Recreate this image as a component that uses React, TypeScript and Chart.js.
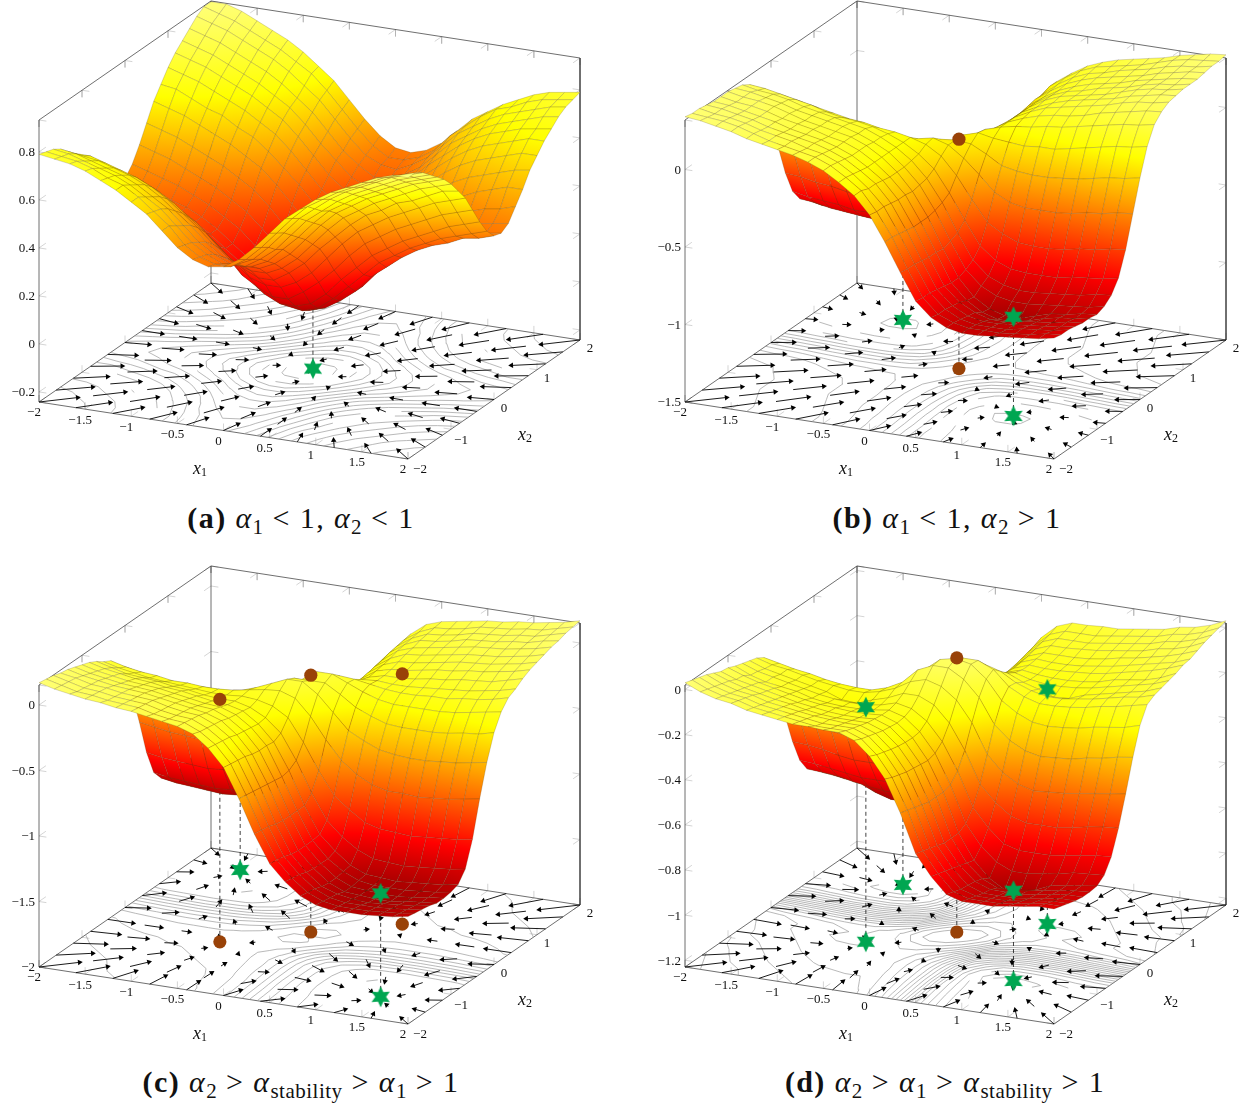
import React, { useEffect, useRef } from 'react';
import { Chart, registerables } from 'chart.js';
Chart.register(...registerables);

// Surface heights: rows are x2 = -2 .. 0 in steps of 1/6, columns x1 = -2 .. 2 in steps of 1/6.
// The pictured surfaces are point-symmetric, so rows x2 = 1/6 .. 2 are the same rows turned round.
const lowerA = [
  [.79,.78,.77,.75,.72,.69,.65,.61,.55,.49,.45,.43,.44,.48,.54,.61,.68,.73,.78,.82,.85,.88,.91,.93,.93],
  [.78,.77,.76,.74,.71,.69,.65,.60,.55,.48,.44,.42,.42,.46,.52,.59,.66,.72,.76,.80,.83,.86,.89,.91,.93],
  [.77,.76,.74,.72,.70,.67,.63,.59,.53,.47,.43,.40,.41,.44,.50,.57,.64,.69,.74,.78,.81,.84,.87,.89,.91],
  [.75,.74,.72,.70,.68,.65,.61,.57,.51,.45,.41,.38,.38,.42,.47,.54,.61,.66,.71,.75,.78,.81,.84,.86,.88],
  [.72,.71,.70,.68,.66,.63,.59,.54,.49,.43,.38,.36,.36,.39,.45,.51,.58,.64,.68,.72,.75,.78,.81,.83,.85],
  [.69,.69,.67,.65,.63,.60,.56,.51,.46,.40,.35,.33,.33,.36,.41,.48,.55,.61,.65,.69,.72,.75,.78,.80,.82],
  [.65,.65,.63,.61,.59,.56,.52,.47,.42,.36,.31,.29,.29,.32,.37,.44,.51,.57,.61,.65,.68,.71,.74,.76,.78],
  [.61,.60,.58,.56,.54,.51,.47,.43,.37,.31,.27,.24,.24,.28,.33,.40,.46,.52,.57,.60,.64,.66,.69,.72,.73],
  [.55,.55,.53,.51,.48,.46,.42,.37,.32,.26,.21,.19,.19,.22,.27,.34,.41,.47,.51,.55,.58,.61,.64,.66,.68],
  [.50,.48,.47,.45,.42,.40,.36,.31,.26,.19,.15,.12,.12,.16,.21,.27,.34,.40,.44,.48,.51,.54,.57,.59,.61],
  [.45,.44,.43,.41,.38,.35,.31,.27,.21,.15,.10,.07,.07,.09,.14,.21,.27,.33,.37,.41,.44,.47,.50,.52,.54],
  [.43,.42,.40,.38,.36,.33,.29,.24,.19,.12,.07,.04,.03,.05,.10,.16,.22,.28,.32,.36,.39,.42,.44,.46,.48],
  [.44,.42,.41,.38,.36,.33,.29,.24,.19,.12,.07,.03,.01,.03,.07,.12,.19,.24,.29,.33,.36,.38,.41,.42,.44],
];
const lowerB = [
  [.34,.33,.31,.29,.26,.24,.22,.20,.17,.13,.07,0,-.11,-.27,-.45,-.62,-.71,-.76,-.78,-.78,-.77,-.76,-.75,-.74,-.72],
  [.33,.32,.31,.29,.26,.23,.21,.19,.17,.13,.07,0,-.12,-.27,-.46,-.63,-.72,-.76,-.78,-.78,-.78,-.77,-.76,-.74,-.73],
  [.33,.31,.30,.28,.25,.23,.21,.18,.16,.12,.06,-.02,-.12,-.28,-.46,-.63,-.72,-.77,-.79,-.79,-.79,-.77,-.76,-.75,-.73],
  [.32,.31,.29,.27,.24,.22,.20,.18,.15,.11,.05,-.02,-.13,-.29,-.47,-.64,-.73,-.78,-.80,-.80,-.79,-.78,-.77,-.76,-.74],
  [.31,.30,.28,.26,.24,.21,.19,.17,.14,.10,.04,-.03,-.14,-.30,-.48,-.65,-.74,-.79,-.82,-.82,-.80,-.79,-.78,-.76,-.75],
  [.31,.29,.28,.26,.23,.21,.19,.16,.14,.10,.04,-.04,-.14,-.30,-.48,-.66,-.76,-.82,-.85,-.85,-.83,-.80,-.78,-.77,-.75],
  [.31,.29,.28,.26,.23,.20,.18,.16,.14,.10,.04,-.04,-.15,-.30,-.49,-.66,-.77,-.83,-.86,-.86,-.83,-.80,-.79,-.77,-.76],
  [.30,.29,.27,.25,.22,.20,.18,.16,.13,.09,.04,-.04,-.14,-.29,-.47,-.64,-.73,-.78,-.80,-.80,-.79,-.78,-.77,-.76,-.74],
  [.29,.27,.26,.24,.21,.19,.17,.15,.13,.09,.04,-.03,-.13,-.27,-.45,-.61,-.70,-.74,-.76,-.76,-.75,-.74,-.73,-.71,-.70],
  [.26,.25,.23,.21,.19,.16,.14,.13,.11,.08,.04,-.02,-.10,-.24,-.40,-.55,-.63,-.67,-.68,-.68,-.68,-.66,-.65,-.64,-.62],
  [.21,.19,.18,.16,.14,.12,.10,.09,.07,.06,.04,.01,-.05,-.16,-.30,-.43,-.49,-.53,-.54,-.54,-.53,-.51,-.50,-.48,-.47],
  [.10,.08,.07,.05,.03,.01,-.01,-.01,-.02,-.01,0,.02,-.01,-.08,-.17,-.27,-.32,-.34,-.34,-.34,-.33,-.31,-.30,-.28,-.27],
  [-.07,-.09,-.10,-.12,-.14,-.15,-.16,-.16,-.15,-.13,-.07,-.02,-.01,-.02,-.07,-.13,-.15,-.16,-.16,-.15,-.14,-.12,-.10,-.09,-.07],
];
const lowerC = [
  [.17,.14,.12,.10,.09,.07,.06,.04,.02,0,-.04,-.13,-.26,-.48,-.73,-.94,-1.06,-1.15,-1.20,-1.22,-1.22,-1.22,-1.21,-1.20,-1.18],
  [.16,.13,.10,.09,.07,.06,.05,.02,0,-.01,-.06,-.14,-.27,-.49,-.74,-.95,-1.07,-1.16,-1.21,-1.23,-1.23,-1.23,-1.22,-1.21,-1.19],
  [.15,.12,.09,.08,.06,.05,.04,.01,-.01,-.02,-.07,-.15,-.28,-.50,-.75,-.96,-1.08,-1.17,-1.22,-1.24,-1.24,-1.24,-1.23,-1.22,-1.20],
  [.13,.11,.08,.07,.05,.04,.03,0,-.02,-.03,-.08,-.16,-.29,-.51,-.77,-.98,-1.10,-1.19,-1.23,-1.25,-1.26,-1.25,-1.24,-1.23,-1.21],
  [.12,.09,.07,.05,.04,.03,.01,-.01,-.03,-.05,-.09,-.18,-.31,-.52,-.78,-.99,-1.11,-1.20,-1.25,-1.26,-1.27,-1.27,-1.25,-1.24,-1.23],
  [.10,.07,.05,.03,.02,.01,-.01,-.03,-.05,-.06,-.11,-.19,-.32,-.53,-.78,-.99,-1.11,-1.20,-1.25,-1.26,-1.27,-1.27,-1.26,-1.24,-1.23],
  [.08,.05,.03,.01,0,-.01,-.03,-.05,-.07,-.08,-.12,-.20,-.32,-.54,-.78,-.99,-1.11,-1.19,-1.24,-1.26,-1.26,-1.26,-1.25,-1.24,-1.22],
  [.06,.03,.01,-.01,-.02,-.04,-.05,-.07,-.09,-.10,-.13,-.21,-.33,-.53,-.78,-.98,-1.09,-1.18,-1.23,-1.24,-1.25,-1.24,-1.23,-1.22,-1.20],
  [.03,0,-.03,-.04,-.05,-.07,-.08,-.10,-.11,-.11,-.14,-.20,-.30,-.49,-.72,-.91,-1.02,-1.10,-1.15,-1.16,-1.17,-1.16,-1.15,-1.14,-1.12],
  [-.01,-.04,-.06,-.08,-.09,-.10,-.11,-.12,-.12,-.11,-.12,-.15,-.22,-.39,-.59,-.76,-.85,-.93,-.96,-.97,-.98,-.97,-.96,-.95,-.93],
  [-.04,-.07,-.09,-.10,-.12,-.12,-.13,-.13,-.12,-.10,-.08,-.07,-.11,-.23,-.39,-.53,-.62,-.68,-.71,-.71,-.72,-.71,-.70,-.68,-.66],
  [-.11,-.13,-.15,-.17,-.18,-.18,-.18,-.18,-.16,-.12,-.07,-.02,-.02,-.10,-.22,-.34,-.40,-.45,-.47,-.48,-.48,-.47,-.46,-.44,-.42],
  [-.23,-.26,-.27,-.29,-.30,-.30,-.30,-.29,-.25,-.20,-.12,-.05,-.05,-.05,-.12,-.20,-.25,-.29,-.30,-.30,-.30,-.29,-.27,-.26,-.23],
];
const lowerD = [
  [.03,0,-.02,-.03,-.05,-.06,-.07,-.08,-.08,-.085,-.085,-.11,-.17,-.26,-.40,-.57,-.66,-.73,-.75,-.75,-.75,-.74,-.73,-.72,-.72],
  [.02,-.01,-.03,-.04,-.06,-.07,-.08,-.09,-.10,-.10,-.10,-.125,-.185,-.275,-.41,-.58,-.67,-.74,-.76,-.76,-.76,-.75,-.74,-.73,-.73],
  [.01,-.02,-.04,-.05,-.07,-.08,-.09,-.10,-.11,-.11,-.11,-.135,-.195,-.285,-.42,-.59,-.68,-.75,-.77,-.77,-.77,-.76,-.75,-.74,-.74],
  [0,-.03,-.05,-.06,-.08,-.09,-.10,-.11,-.115,-.12,-.12,-.145,-.205,-.295,-.43,-.60,-.69,-.755,-.78,-.78,-.78,-.77,-.76,-.75,-.75],
  [-.015,-.04,-.06,-.075,-.09,-.10,-.115,-.125,-.13,-.13,-.13,-.155,-.213,-.30,-.44,-.61,-.70,-.76,-.785,-.785,-.785,-.775,-.765,-.755,-.755],
  [-.03,-.055,-.07,-.085,-.10,-.115,-.125,-.135,-.14,-.14,-.135,-.16,-.218,-.305,-.44,-.61,-.71,-.77,-.80,-.80,-.79,-.78,-.77,-.76,-.755],
  [-.035,-.06,-.08,-.095,-.11,-.125,-.135,-.14,-.145,-.145,-.14,-.165,-.22,-.31,-.44,-.61,-.72,-.79,-.83,-.83,-.81,-.78,-.77,-.76,-.75],
  [-.05,-.08,-.10,-.11,-.12,-.14,-.15,-.155,-.155,-.15,-.14,-.16,-.215,-.30,-.43,-.59,-.68,-.74,-.77,-.77,-.76,-.75,-.735,-.73,-.725],
  [-.06,-.085,-.10,-.115,-.13,-.145,-.155,-.16,-.16,-.15,-.13,-.145,-.19,-.27,-.39,-.54,-.62,-.68,-.70,-.70,-.70,-.69,-.68,-.67,-.665],
  [-.07,-.095,-.11,-.125,-.14,-.155,-.18,-.185,-.16,-.14,-.11,-.11,-.14,-.21,-.32,-.46,-.53,-.58,-.60,-.60,-.60,-.59,-.575,-.565,-.56],
  [-.08,-.10,-.11,-.125,-.14,-.15,-.16,-.16,-.145,-.12,-.08,-.06,-.08,-.13,-.22,-.35,-.42,-.46,-.48,-.475,-.47,-.46,-.45,-.44,-.43],
  [-.10,-.115,-.13,-.14,-.155,-.165,-.17,-.17,-.15,-.115,-.05,-.02,-.02,-.06,-.13,-.24,-.30,-.335,-.35,-.345,-.34,-.325,-.315,-.30,-.29],
  [-.17,-.19,-.20,-.21,-.225,-.233,-.2375,-.23,-.20,-.155,-.07,-.015,0,-.015,-.07,-.155,-.20,-.23,-.2375,-.233,-.225,-.21,-.20,-.19,-.17],
];

// Floor arrows sit on an 11 x 11 lattice, x = -2 .. 2 in steps of 0.4.
const arrowLattice = [-2,-1.6,-1.2,-.8,-.4,0,.4,.8,1.2,1.6,2];
const pullA = [2,1.6,1.2,.8,.4,0,-.4,-.8,-1.2,-1.6,-2];
const crossA = [.38,.37,.35,.3,.2,0,-.2,-.3,-.35,-.37,-.38];
const pullB = [2,1.6,1.2,.8,.4,0,-.4,-.8,-1.2,-1.6,-2];
const cross1B = [1.1,1.1,1.09,1.02,.66,0,-.66,-1.02,-1.09,-1.1,-1.1];
const cross2B = [1,1,.99,.9,.55,0,-.55,-.9,-.99,-1,-1];
const pullC = [.9,.5,.11,-.2,-.33,0,.33,.2,-.11,-.5,-.9];
const crossC = [.35,.35,.345,.32,.23,0,-.23,-.32,-.345,-.35,-.35];
const pullD = [1.06,.66,.27,-.065,-.22,0,.22,.065,-.27,-.66,-1.06];
const crossD = [.15,.15,.15,.14,.1,0,-.1,-.14,-.15,-.15,-.15];

const x1Ticks = [-2,-1.5,-1,-.5,0,.5,1,1.5,2];
const x2Ticks = [-2,-1,0,1,2];
const zTicksA = [-.2,0,.2,.4,.6,.8];
const zTicksB = [-1.5,-1,-.5,0];
const zTicksC = [-2,-1.5,-1,-.5,0];
const zTicksD = [-1.2,-1,-.8,-.6,-.4,-.2,0];

// Fixed points: [x1, x2, z on the surface]
const starsA = [[0,.08,.01]];
const starsB = [[-1.12,1.18,-.86],[1.09,-.99,-.86]];
const saddlesB = [[0,.08,-.02]];
const starsC = [[-1.46,1.52,-1.21],[1.41,-1.37,-1.21]];
const saddlesC = [[-.72,-.54,-.15],[-.04,.116,-.04],[.67,.72,-.09]];
const starsD = [[-1.12,1.18,-.83],[1.09,-.99,-.83],[-.72,-.54,-.19],[.66,.72,-.19]];
const saddlesD = [[-.04,.116,-.015]];

const N = 24;
const full = (rows: number[][]) => [...rows, ...rows.slice(0, 12).reverse().map((r) => [...r].reverse())];

const panels = [
  { id: 'a', left: 0, top: 0, heights: full(lowerA), zmin: -.242, k: 240, zLow: .01, zHigh: .93, zTicks: zTicksA, levelFrom: .05, levelStep: .05, levelTo: .9,
    u: (i: number, j: number) => pullA[i] + crossA[j], v: (i: number, j: number) => pullA[j] + crossA[i], scale: .12,
    stars: starsA, saddles: [] as number[][], topStars: [] as number[][], topSaddles: [] as number[][] },
  { id: 'b', left: 646, top: 0, heights: full(lowerB), zmin: -1.5, k: 155, zLow: -.86, zHigh: .34, zTicks: zTicksB, levelFrom: -.84, levelStep: .1, levelTo: .3,
    u: (i: number, j: number) => pullB[i] + cross1B[j], v: (i: number, j: number) => pullB[j] + cross2B[i], scale: .1,
    stars: starsB, saddles: saddlesB, topStars: [starsB[1]], topSaddles: saddlesB },
  { id: 'c', left: 0, top: 565, heights: full(lowerC), zmin: -2, k: 131, zLow: -1.27, zHigh: .17, zTicks: zTicksC, levelFrom: -1.25, levelStep: .12, levelTo: .15,
    u: (i: number, j: number) => pullC[i] + crossC[j], v: (i: number, j: number) => pullC[j] + crossC[i], scale: .24,
    stars: starsC, saddles: saddlesC, topStars: [starsC[1]], topSaddles: saddlesC },
  { id: 'd', left: 646, top: 565, heights: full(lowerD), zmin: -1.23, k: 225.6, zLow: -.83, zHigh: .03, zTicks: zTicksD, levelFrom: -.8, levelStep: .04, levelTo: 0,
    u: (i: number, j: number) => pullD[i] + crossD[j], v: (i: number, j: number) => pullD[j] + crossD[i], scale: .24,
    stars: starsD, saddles: saddlesD, topStars: starsD.slice(1), topSaddles: saddlesD },
];

const W = 597, H = 500, BOX = 282;
const T0 = 0.22, TR = 0.6;
const FONT = '"Liberation Serif", serif';
const fmt = (n: number) => (n < 0 ? '\u2212' : '') + String(Math.abs(n));

function hot(t: number): [number, number, number] {
  t = Math.max(0, Math.min(1, t));
  if (t < 1 / 3) return [765 * t, 0, 0];
  if (t < 2 / 3) return [255, 765 * (t - 1 / 3), 0];
  return [255, 255, 765 * (t - 2 / 3)];
}
const rgb = (c: number[]) => `rgb(${c[0] | 0},${c[1] | 0},${c[2] | 0})`;

function makeStar(): HTMLCanvasElement {
  const c = document.createElement('canvas');
  c.width = 24; c.height = 24;
  const g = c.getContext('2d')!;
  g.fillStyle = '#00a651';
  g.beginPath();
  for (let i = 0; i < 12; i++) {
    const r = i % 2 ? 5.4 : 10.6;
    const a = -Math.PI / 2 + (i * Math.PI) / 6;
    const px = 12 + r * Math.cos(a), py = 12 + r * Math.sin(a);
    if (i) g.lineTo(px, py); else g.moveTo(px, py);
  }
  g.closePath();
  g.fill();
  return c;
}

type P = (typeof panels)[number];

function buildChart(canvas: HTMLCanvasElement, p: P) {
  const ctx = canvas.getContext('2d')!;
  const zmax = p.zmin + BOX / p.k;
  const pr = (x1: number, x2: number, z: number) => ({
    x: 309.5 + 92.25 * x1 + 43 * x2,
    y: 371 + 14.25 * x1 - 29.75 * x2 - (z - p.zmin) * p.k,
  });
  const gap = { x: 0, y: null as any };
  const line = (data: any[], color: string, width: number, extra: any = {}) => ({
    type: 'scatter', data, showLine: true, spanGaps: false, borderColor: color, borderWidth: width,
    pointRadius: 0, fill: false, clip: false, tension: 0, ...extra,
  });
  const layers: any[] = [];

  // tick marks on the box
  const ticks: any[] = [];
  const seg = (a: any, b: any) => ticks.push(a, b, gap);
  const dz = 7 / p.k;
  for (const z of p.zTicks) {
    seg(pr(-2, -2, z), pr(-1.92, -2, z)); seg(pr(-2, -2, z), pr(-2, -1.84, z));
    seg(pr(2, 2, z), pr(1.92, 2, z)); seg(pr(2, 2, z), pr(2, 1.84, z));
    seg(pr(-2, 2, z), pr(-1.92, 2, z)); seg(pr(-2, 2, z), pr(-2, 1.84, z));
  }
  for (const t of x1Ticks) {
    seg(pr(t, 2, zmax), pr(t, 2, zmax - dz)); seg(pr(t, 2, zmax), pr(t, 1.84, zmax));
    seg(pr(t, 2, p.zmin), pr(t, 2, p.zmin + dz)); seg(pr(t, 2, p.zmin), pr(t, 1.84, p.zmin));
    seg(pr(t, -2, p.zmin), pr(t, -2, p.zmin + dz)); seg(pr(t, -2, p.zmin), pr(t, -1.84, p.zmin));
  }
  for (const t of x2Ticks) {
    seg(pr(-2, t, zmax), pr(-2, t, zmax - dz)); seg(pr(-2, t, zmax), pr(-1.92, t, zmax));
    seg(pr(-2, t, p.zmin), pr(-2, t, p.zmin + dz)); seg(pr(-2, t, p.zmin), pr(-1.92, t, p.zmin));
    seg(pr(2, t, p.zmin), pr(2, t, p.zmin + dz)); seg(pr(2, t, p.zmin), pr(1.92, t, p.zmin));
  }
  layers.push(line(ticks, '#a8a8a8', 0.5));

  // box
  const box = [
    pr(-2, -2, p.zmin), pr(2, -2, p.zmin), pr(2, 2, p.zmin), pr(-2, 2, p.zmin), pr(-2, -2, p.zmin), gap,
    pr(-2, -2, p.zmin), pr(-2, -2, zmax), pr(-2, 2, zmax), pr(2, 2, zmax), pr(2, 2, p.zmin), gap,
    pr(-2, 2, p.zmin), pr(-2, 2, zmax),
  ];
  layers.push(line(box, '#4a4a4a', 0.8));

  // contours of the height table on the floor
  const h = p.heights;
  const cont: any[] = [];
  const gx = (i: number) => -2 + i / 6;
  for (let lev = p.levelFrom; lev <= p.levelTo + 1e-9; lev += p.levelStep) {
    for (let j = 0; j < N; j++) for (let i = 0; i < N; i++) {
      const c = [
        [gx(i), gx(j), h[j][i]], [gx(i + 1), gx(j), h[j][i + 1]],
        [gx(i + 1), gx(j + 1), h[j + 1][i + 1]], [gx(i), gx(j + 1), h[j + 1][i]],
      ];
      const hits: any[] = [];
      for (let e = 0; e < 4; e++) {
        const a = c[e], b = c[(e + 1) % 4];
        if ((a[2] - lev) * (b[2] - lev) < 0) {
          const s = (lev - a[2]) / (b[2] - a[2]);
          hits.push(pr(a[0] + s * (b[0] - a[0]), a[1] + s * (b[1] - a[1]), p.zmin));
        }
      }
      if (hits.length >= 2) cont.push(hits[0], hits[1], gap);
      if (hits.length === 4) cont.push(hits[2], hits[3], gap);
    }
  }
  layers.push(line(cont, '#9b9b9b', 0.7));

  // arrows
  const arrowPts: any[] = [], radii: number[] = [], rots: number[] = [];
  arrowLattice.forEach((a1, i) => arrowLattice.forEach((a2, j) => {
    const tail = pr(a1, a2, p.zmin);
    const tip = pr(a1 + p.u(i, j) * p.scale, a2 + p.v(i, j) * p.scale, p.zmin);
    const ang = (Math.atan2(tip.y - tail.y, tip.x - tail.x) * 180) / Math.PI + 90;
    arrowPts.push(tail, tip, gap);
    radii.push(0, 3.2, 0);
    rots.push(0, ang, 0);
  }));
  layers.push(line(arrowPts, '#000', 0.9, {
    pointRadius: radii, pointRotation: rots, pointStyle: 'triangle', pointBackgroundColor: '#000', pointBorderColor: '#000', pointBorderWidth: 0,
  }));

  // dashed droplines
  const dash: any[] = [];
  for (const m of [...p.stars, ...p.saddles]) dash.push(pr(m[0], m[1], p.zmin), pr(m[0], m[1], m[2]), gap);
  layers.push(line(dash, '#111', 0.8, { borderDash: [4, 3] }));

  const star = makeStar();
  const marker = (pts: any[], style: any, radius: number) => ({
    type: 'scatter', data: pts, showLine: false, pointStyle: style, pointRadius: radius,
    pointBackgroundColor: '#994208', pointBorderColor: '#994208', pointBorderWidth: 0, clip: false,
  });
  layers.push(marker(p.stars.map((m) => pr(m[0], m[1], p.zmin)), star, 10));
  layers.push(marker(p.saddles.map((m) => pr(m[0], m[1], p.zmin)), 'circle', 6.6));

  // surface, far cells first
  const cells: any[] = [];
  for (let j = 0; j < N; j++) for (let i = 0; i < N; i++) {
    cells.push({ i, j, depth: 14.25 * gx(i) - 29.75 * gx(j) });
  }
  cells.sort((a, b) => a.depth - b.depth);
  const tOf = (z: number) => T0 + (TR * (z - p.zLow)) / (p.zHigh - p.zLow);
  for (const { i, j } of cells) {
    const z00 = h[j][i], z10 = h[j][i + 1], z11 = h[j + 1][i + 1], z01 = h[j + 1][i];
    const a = pr(gx(i), gx(j), z00), b = pr(gx(i + 1), gx(j), z10), c = pr(gx(i + 1), gx(j + 1), z11), d = pr(gx(i), gx(j + 1), z01);
    const ux = (b.x - a.x + c.x - d.x) / 2, uy = (b.y - a.y + c.y - d.y) / 2;
    const vx = (d.x - a.x + c.x - b.x) / 2, vy = (d.y - a.y + c.y - b.y) / 2;
    const du = (z10 - z00 + z11 - z01) / 2, dv = (z01 - z00 + z11 - z10) / 2;
    const det = ux * vy - uy * vx;
    const zc = (z00 + z10 + z11 + z01) / 4;
    let fillStyle: any = rgb(hot(tOf(zc)));
    if (Math.abs(det) > 1e-3) {
      const gX = (du * vy - dv * uy) / det, gY = (ux * dv - vx * du) / det;
      const n = gX * gX + gY * gY;
      const lo = Math.min(z00, z10, z11, z01), hi = Math.max(z00, z10, z11, z01);
      if (n > 1e-12 && hi > lo) {
        const cx = (a.x + b.x + c.x + d.x) / 4, cy = (a.y + b.y + c.y + d.y) / 4;
        const grad = ctx.createLinearGradient(cx + (gX * (lo - zc)) / n, cy + (gY * (lo - zc)) / n, cx + (gX * (hi - zc)) / n, cy + (gY * (hi - zc)) / n);
        grad.addColorStop(0, rgb(hot(tOf(lo))));
        for (const bp of [1 / 3, 2 / 3]) {
          const zb = p.zLow + ((bp - T0) * (p.zHigh - p.zLow)) / TR;
          if (zb > lo && zb < hi) grad.addColorStop((zb - lo) / (hi - lo), rgb(hot(bp)));
        }
        grad.addColorStop(1, rgb(hot(tOf(hi))));
        fillStyle = grad;
      }
    }
    layers.push(line([a, b, c, d, a], 'rgba(80,65,25,0.42)', 0.5, { fill: 'shape', backgroundColor: fillStyle }));
  }

  layers.push(marker(p.topStars.map((m) => pr(m[0], m[1], m[2])), star, 10));
  layers.push(marker(p.topSaddles.map((m) => pr(m[0], m[1], m[2])), 'circle', 6.6));

  const labels = {
    id: 'axisText',
    afterDraw(chart: any) {
      const g = chart.ctx, sx = chart.scales.x, sy = chart.scales.y;
      const put = (pt: any, ox: number, oy: number, s: string, align: CanvasTextAlign = 'center') => {
        g.textAlign = align;
        g.fillText(s, sx.getPixelForValue(pt.x) + ox, sy.getPixelForValue(pt.y) + oy);
      };
      g.save();
      g.fillStyle = '#111';
      g.textBaseline = 'middle';
      g.font = `13px ${FONT}`;
      for (const t of x1Ticks) put(pr(t, -2, p.zmin), -5, 11, fmt(t));
      for (const t of x2Ticks) put(pr(2, t, p.zmin), t === -2 ? 12 : 10, t < 0 ? 11 : 9, fmt(t));
      for (const z of p.zTicks) put(pr(-2, -2, z), -4, 1, fmt(z), 'right');
      const title = (x: number, y: number, sub: string) => {
        g.textAlign = 'left';
        g.font = `italic 18px ${FONT}`;
        g.fillText('x', sx.getPixelForValue(x), sy.getPixelForValue(y));
        g.font = `12px ${FONT}`;
        g.fillText(sub, sx.getPixelForValue(x) + 8, sy.getPixelForValue(y) + 4);
      };
      title(193, 469, '1');
      title(518, 435, '2');
      g.restore();
    },
  };

  return new Chart(canvas, {
    type: 'scatter',
    data: { datasets: layers.reverse() },
    options: {
      animation: false, responsive: false, events: [],
      layout: { padding: 0, autoPadding: false },
      plugins: { legend: { display: false }, tooltip: { enabled: false }, filler: { drawTime: 'beforeDatasetDraw', propagate: false } },
      scales: {
        x: { type: 'linear', min: 0, max: W, display: false },
        y: { type: 'linear', min: 0, max: H, reverse: true, display: false },
      },
    } as any,
    plugins: [labels],
  } as any);
}

function Panel({ p }: { p: P }) {
  const ref = useRef<HTMLCanvasElement>(null);
  useEffect(() => {
    const chart = buildChart(ref.current!, p);
    return () => chart.destroy();
  }, [p]);
  return <canvas ref={ref} width={W} height={H} style={{ position: 'absolute', left: p.left, top: p.top, width: W, height: H }} />;
}

const capStyle = (cx: number, y: number): React.CSSProperties => ({
  position: 'absolute', left: cx, top: y, transform: 'translate(-50%,-50%)', whiteSpace: 'nowrap',
  fontFamily: FONT, fontSize: 30, letterSpacing: 1.4, lineHeight: '34px', color: '#111',
});
const Sub = ({ children }: { children: React.ReactNode }) => (
  <sub style={{ fontSize: '70%', lineHeight: 0, verticalAlign: '-0.3em', letterSpacing: 0.5 }}>{children}</sub>
);
const A = () => <i>α</i>;

export default function App() {
  return (
    <div style={{ position: 'absolute', left: 0, top: 0, width: 1243, height: 1104, overflow: 'hidden', background: '#fff' }}>
      {panels.map((p) => <Panel key={p.id} p={p} />)}
      <div style={capStyle(301, 518)}><b>(a)</b> <A /><Sub>1</Sub> &lt; 1, <A /><Sub>2</Sub> &lt; 1</div>
      <div style={capStyle(947, 518)}><b>(b)</b> <A /><Sub>1</Sub> &lt; 1, <A /><Sub>2</Sub> &gt; 1</div>
      <div style={capStyle(301, 1082)}><b>(c)</b> <A /><Sub>2</Sub> &gt; <A /><Sub>stability</Sub> &gt; <A /><Sub>1</Sub> &gt; 1</div>
      <div style={capStyle(945, 1082)}><b>(d)</b> <A /><Sub>2</Sub> &gt; <A /><Sub>1</Sub> &gt; <A /><Sub>stability</Sub> &gt; 1</div>
    </div>
  );
}
